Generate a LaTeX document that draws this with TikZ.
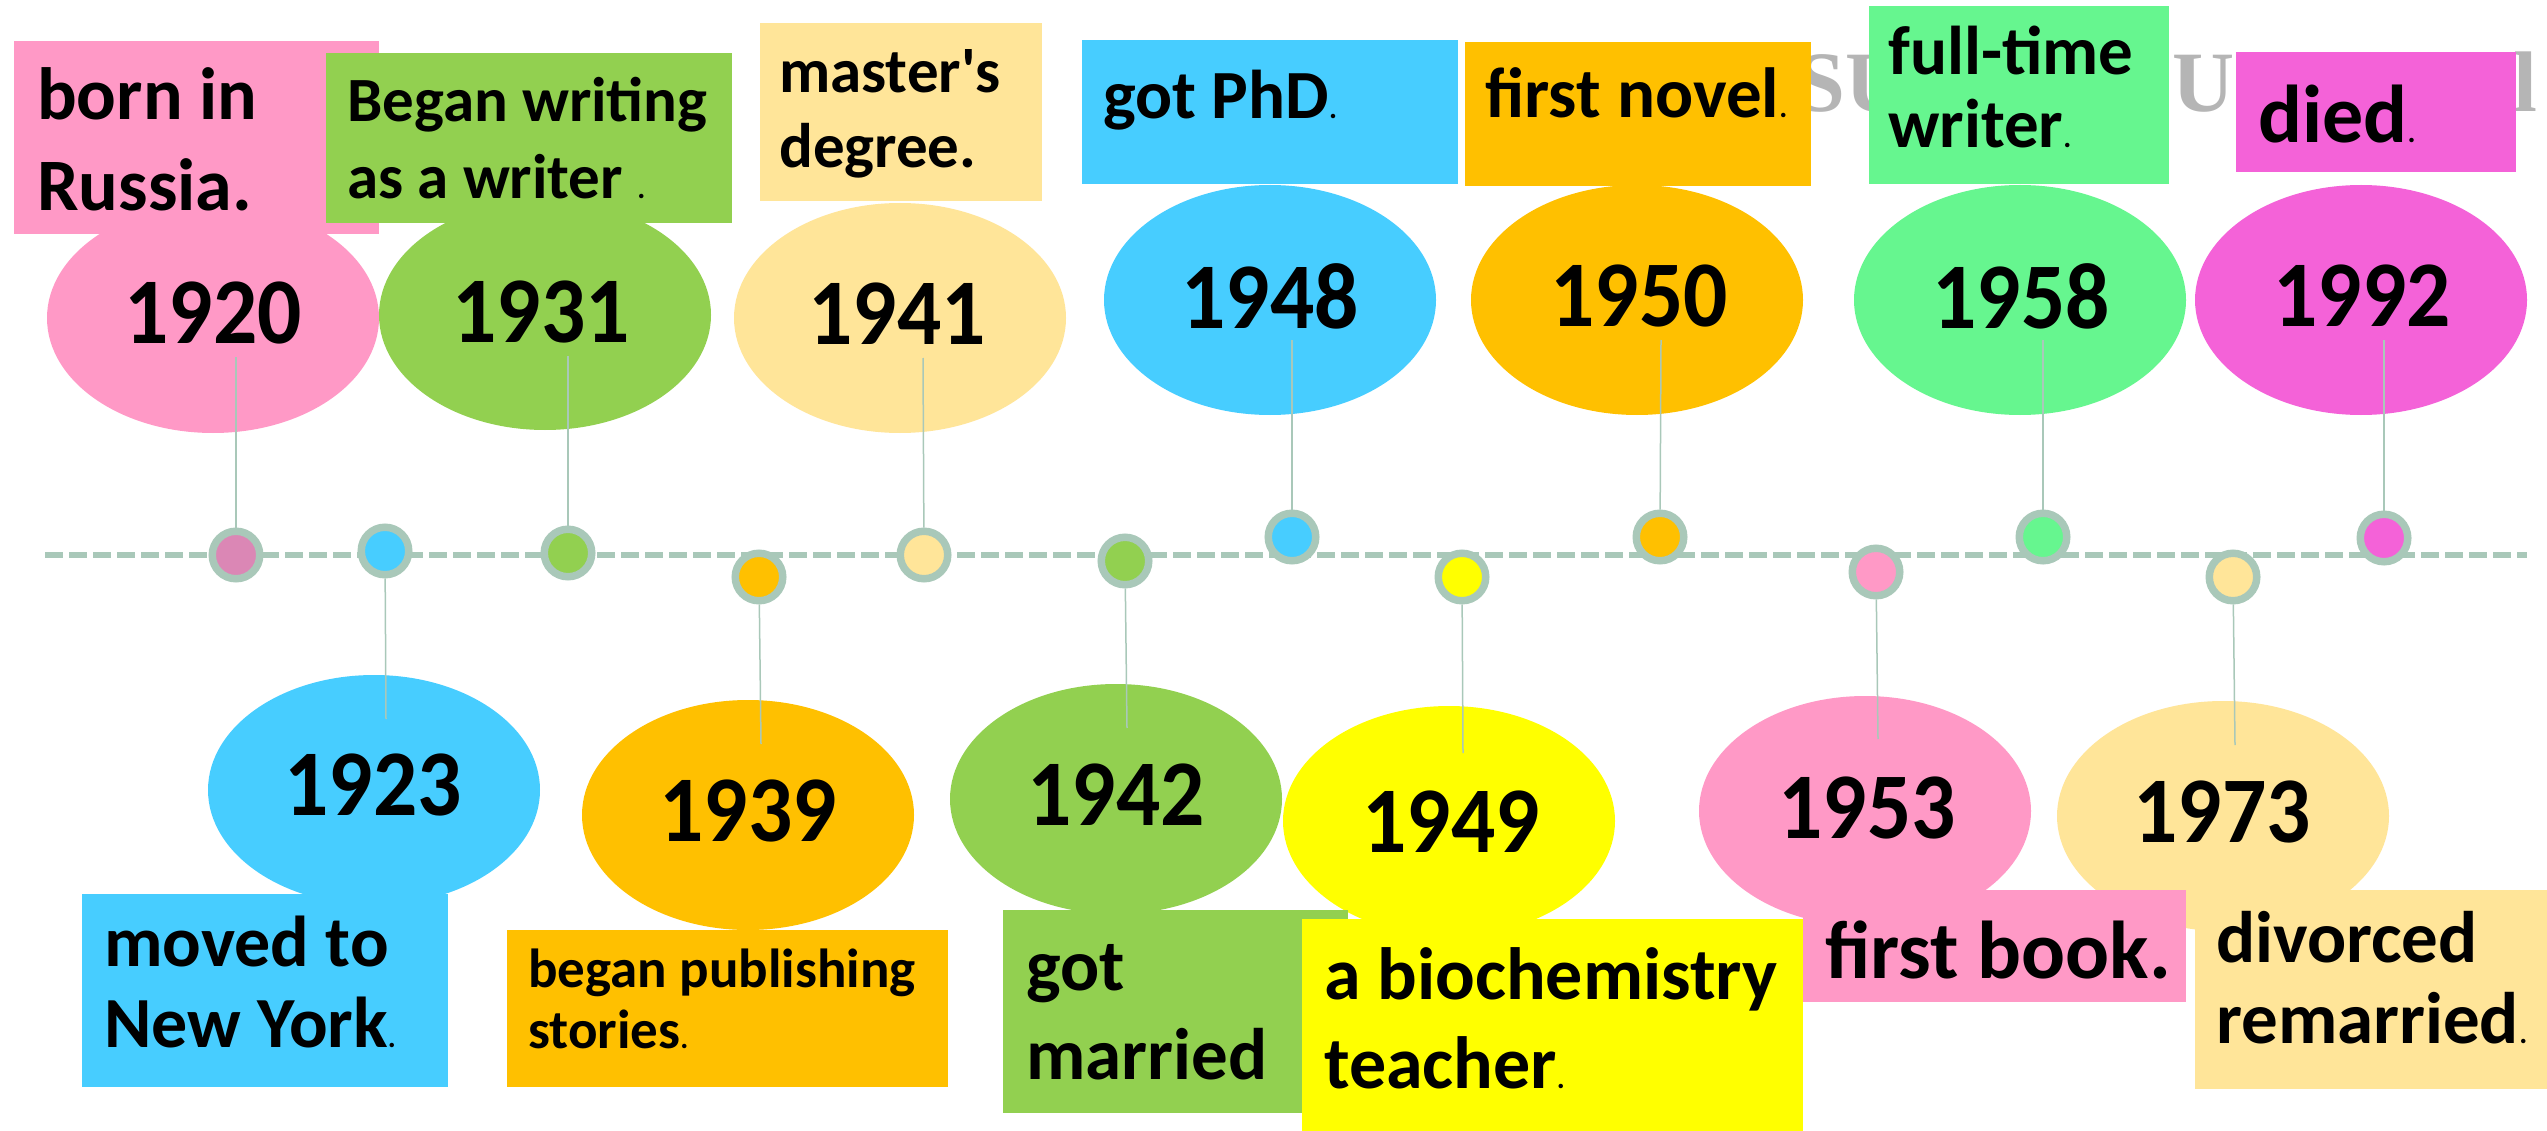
\documentclass[tikz,border=0pt]{standalone}
\usepackage{fontspec}
\usepackage{graphicx}
\setmainfont{Carlito}
\newfontfamily\rawcal{Carlito}
\newfontfamily\wmfont{Liberation Serif}
\usetikzlibrary{shapes.geometric}
\definecolor{cpink}{HTML}{FF99C6}
\definecolor{cdot}{HTML}{DB87B5}
\definecolor{cblue}{HTML}{47CDFF}
\definecolor{cgreen}{HTML}{92D050}
\definecolor{clyel}{HTML}{FFE599}
\definecolor{corange}{HTML}{FFC000}
\definecolor{cyel}{HTML}{FFFF00}
\definecolor{clgreen}{HTML}{66F68F}
\definecolor{cmag}{HTML}{F462D8}
\definecolor{csage}{HTML}{A9C8B9}
\definecolor{cwm}{HTML}{B5B5B5}
\newcommand\smalldot{{\fontsize{30}{30}\selectfont .}}
\newcommand\yr[1]{\scalebox{0.93}[1]{#1}}
\begin{document}
\begin{tikzpicture}[x=1pt,y=-1pt,
  ell/.style={ellipse, minimum width=332pt, minimum height=230pt, inner sep=0pt, draw=none},
  yeartxt/.style={inner sep=0pt, font=\fontsize{94}{94}\selectfont\bfseries},
  boxnode/.style={rectangle, inner sep=0pt, anchor=north west, draw=none},
  ln/.style={anchor=base west, inner sep=0pt},
  fsz/.style={font=\fontsize{#1}{#1}\selectfont\bfseries},
  dotnode/.style={circle, draw=csage, line width=7.5pt, minimum size=47.5pt, inner sep=0pt},
  stem/.style={draw=csage, line width=1.5pt},
  wm/.style={anchor=base west, inner sep=0pt, text=cwm, font=\wmfont\bfseries\fontsize{86}{86}\selectfont}
]
\useasboundingbox (0,0) rectangle (2547,1131);
\fill[white] (0,0) rectangle (2547,1131);

% watermark fragments
\node[wm] (wm1) at (1797,112) {SU};
\node[wm] (wm2) at (2172,112) {U};
\node[wm] (wm3) at (2513,112) {l};

% timeline
\coordinate (tlL) at (45,555);
\coordinate (tlR) at (2527,555);
\draw[csage, line width=6pt, dash pattern=on 18pt off 6pt] (tlL) -- (tlR);

% ellipses (top)
\node[ell, fill=cpink]   (e1920) at (213,318) {};
\node[ell, fill=cgreen]  (e1931) at (545,315) {};
\node[ell, fill=clyel]   (e1941) at (900,318) {};
\node[ell, fill=cblue]   (e1948) at (1270,300) {};
\node[ell, fill=corange] (e1950) at (1637,300) {};
\node[ell, fill=clgreen] (e1958) at (2020,300) {};
\node[ell, fill=cmag]    (e1992) at (2361,300) {};
% ellipses (bottom)
\node[ell, fill=cblue]   (e1923) at (374,790) {};
\node[ell, fill=corange] (e1939) at (748,815) {};
\node[ell, fill=cgreen]  (e1942) at (1116,799) {};
\node[ell, fill=cyel]    (e1949) at (1449,821) {};
\node[ell, fill=cpink]   (e1953) at (1865,811) {};
\node[ell, fill=clyel]   (e1973) at (2223,816) {};

% years
\node[yeartxt] (y1920) at (213,313) {\yr{1920}};
\node[yeartxt] (y1931) at (541,312) {\yr{1931}};
\node[yeartxt] (y1941) at (897,314) {\yr{1941}};
\node[yeartxt] (y1948) at (1270,296) {\yr{1948}};
\node[yeartxt] (y1950) at (1639,296) {\yr{1950}};
\node[yeartxt] (y1958) at (2021,296) {\yr{1958}};
\node[yeartxt] (y1992) at (2362,296) {\yr{1992}};
\node[yeartxt] (y1923) at (373,785) {\yr{1923}};
\node[yeartxt] (y1939) at (748,811) {\yr{1939}};
\node[yeartxt] (y1942) at (1116,795) {\yr{1942}};
\node[yeartxt] (y1949) at (1451,822) {\yr{1949}};
\node[yeartxt] (y1953) at (1867,808) {\yr{1953}};
\node[yeartxt] (y1973) at (2222,812) {\yr{1973}};

% top boxes
\node[boxnode, fill=cpink, minimum width=365pt, minimum height=193pt] (b1920) at (14,41) {};
\node[boxnode, fill=cgreen, minimum width=406pt, minimum height=170pt] (b1931) at (326,53) {};
\node[boxnode, fill=clyel, minimum width=282pt, minimum height=178pt] (b1941) at (760,23) {};
\node[boxnode, fill=cblue, minimum width=376pt, minimum height=144pt] (b1948) at (1082,40) {};
\node[boxnode, fill=corange, minimum width=346pt, minimum height=144pt] (b1950) at (1465,42) {};
\node[boxnode, fill=clgreen, minimum width=300pt, minimum height=178pt] (b1958) at (1869,6) {};
\node[boxnode, fill=cmag, minimum width=280pt, minimum height=120pt] (b1992) at (2236,52) {};
% bottom boxes
\node[boxnode, fill=cblue, minimum width=366pt, minimum height=193pt] (b1923) at (82,894) {};
\node[boxnode, fill=corange, minimum width=441pt, minimum height=157pt] (b1939) at (507,930) {};
\node[boxnode, fill=cgreen, minimum width=345pt, minimum height=203pt] (b1942) at (1003,910) {};
\node[boxnode, fill=cyel, minimum width=501pt, minimum height=212pt] (b1949) at (1302,919) {};
\node[boxnode, fill=cpink, minimum width=383pt, minimum height=112pt] (b1953) at (1803,890) {};
\node[boxnode, fill=clyel, minimum width=352pt, minimum height=199pt] (b1973) at (2195,890) {};

% box texts
\node[ln, fsz=74] (t1920a) at (37,120) {born in};
\node[ln, fsz=74] (t1920b) at (37,211) {Russia.};
\node[ln, fsz=63] (t1931a) at (347,122) {Began writing};
\node[ln, fsz=63] (t1931b) at (347,199) {as a writer \smalldot};
\node[ln, fsz=63] (t1941a) at (779,93) {\rawcal master's};
\node[ln, fsz=63] (t1941b) at (779,168) {degree.};
\node[ln, fsz=69] (t1948a) at (1103,119) {got PhD\smalldot};
\node[ln, fsz=71] (t1950a) at (1485,118) {first novel\smalldot};
\node[ln, fsz=69] (t1958a) at (1888,75) {full-time};
\node[ln, fsz=69] (t1958b) at (1888,148) {writer\smalldot};
\node[ln, fsz=82] (t1992a) at (2258,143) {died\smalldot};
\node[ln, fsz=72] (t1923a) at (104,966) {moved to};
\node[ln, fsz=72] (t1923b) at (104,1047) {New York\smalldot};
\node[ln, fsz=55] (t1939a) at (528,987) {began publishing};
\node[ln, fsz=55] (t1939b) at (528,1048) {stories\smalldot};
\node[ln, fsz=73] (t1942a) at (1026,990) {got};
\node[ln, fsz=73] (t1942b) at (1026,1079) {married};
\node[ln, fsz=74] (t1949a) at (1324,999) {a biochemistry};
\node[ln, fsz=74] (t1949b) at (1324,1088) {teacher\smalldot};
\node[ln, fsz=82] (t1953a) at (1825,978) {first book.};
\node[ln, fsz=73] (t1973a) at (2216,962) {divorced};
\node[ln, fsz=73] (t1973b) at (2216,1043) {remarried\smalldot};

% stem anchor points
\coordinate (s1920) at (236,357);
\coordinate (s1931) at (568,356);
\coordinate (s1941) at (923,358);
\coordinate (s1948) at (1292,340);
\coordinate (s1950) at (1661,340);
\coordinate (s1958) at (2043,340);
\coordinate (s1992) at (2384,340);
\coordinate (s1923) at (386,719);
\coordinate (s1939) at (761,744);
\coordinate (s1942) at (1127,728);
\coordinate (s1949) at (1463,753);
\coordinate (s1953) at (1878,739);
\coordinate (s1973) at (2235,745);

% dots
\node[dotnode, fill=cdot]    (d1920) at (236,555) {};
\node[dotnode, fill=cblue]   (d1923) at (385,551) {};
\node[dotnode, fill=cgreen]  (d1931) at (568,553) {};
\node[dotnode, fill=corange] (d1939) at (759,577) {};
\node[dotnode, fill=clyel]   (d1941) at (924,555) {};
\node[dotnode, fill=cgreen]  (d1942) at (1125,561) {};
\node[dotnode, fill=cblue]   (d1948) at (1292,537) {};
\node[dotnode, fill=cyel]    (d1949) at (1462,577) {};
\node[dotnode, fill=corange] (d1950) at (1660,537) {};
\node[dotnode, fill=cpink]   (d1953) at (1876,572) {};
\node[dotnode, fill=clgreen] (d1958) at (2043,537) {};
\node[dotnode, fill=clyel]   (d1973) at (2233,577) {};
\node[dotnode, fill=cmag]    (d1992) at (2384,538) {};

% stems
\foreach \y in {1920,1931,1941,1948,1950,1958,1992,1923,1939,1942,1949,1953,1973}{
  \draw[stem] (s\y) -- (d\y);
}
\end{tikzpicture}
\end{document}
